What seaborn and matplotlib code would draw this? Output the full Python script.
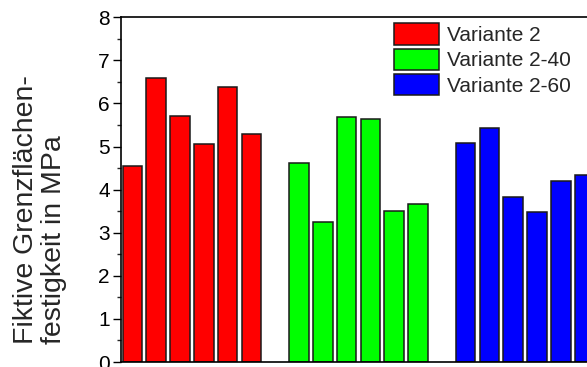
import matplotlib
matplotlib.use("Agg")
import matplotlib.pyplot as plt
from matplotlib.patches import Patch
from matplotlib.ticker import MultipleLocator
import numpy as np
import pandas as pd
import seaborn as sns

# Measured values per variant (six specimens each)
variants = ["Variante 2", "Variante 2-40", "Variante 2-60"]
werte_v2 = [4.56, 6.60, 5.72, 5.06, 6.39, 5.28]
werte_v2_40 = [4.61, 3.24, 5.68, 5.65, 3.50, 3.66]
werte_v2_60 = [5.09, 5.42, 3.83, 3.48, 4.20, 4.35]
farben = ["#FF0000", "#00FF00", "#0000FF"]
y_label = "Fiktive Grenzflächen-\nfestigkeit in MPa"

sns.set_theme(style="white")
plt.rcParams["font.family"] = ["Liberation Sans", "DejaVu Sans"]

# Long-form table: each group of six bars followed by one empty slot
rows = []
for g, (name, vals) in enumerate(zip(variants, [werte_v2, werte_v2_40, werte_v2_60])):
    for i, v in enumerate(vals):
        rows.append({"pos": g * 7 + i, "variante": name, "wert": v})
df = pd.DataFrame(rows)

fig = plt.figure(figsize=(5.87, 3.67), dpi=100)
ax = fig.add_axes([121 / 587, 5 / 367, (587 - 121) / 587, (362 - 17.3) / 367])

sns.barplot(data=df, x="pos", y="wert", hue="variante", hue_order=variants,
            palette=farben, native_scale=True, dodge=False, width=0.82,
            edgecolor="#1a1a1a", linewidth=1.1, saturation=1, legend=False, ax=ax)

ax.set_xlim(-0.48, 19.1)
ax.set_ylim(0, 8)
ax.yaxis.set_major_locator(MultipleLocator(1))
ax.yaxis.set_minor_locator(MultipleLocator(0.5))
ax.tick_params(axis="y", which="major", direction="out", length=6, width=1,
               labelsize=15, pad=2, left=True, colors="black")
ax.tick_params(axis="y", which="minor", direction="out", length=3, width=1, left=True)
ax.tick_params(axis="x", bottom=False, labelbottom=False)
ax.set_xlabel("")
ax.set_ylabel("")
for side in ["left", "bottom", "top"]:
    ax.spines[side].set_visible(True)
    ax.spines[side].set_color("black")
    ax.spines[side].set_linewidth(1.2)
ax.spines["right"].set_visible(False)

handles = [Patch(facecolor=c, edgecolor="#1a1a1a", linewidth=1.1) for c in farben]
fig.legend(handles, variants, loc="upper left",
           bbox_to_anchor=(393.5 / 587, 1 - 23.5 / 367), frameon=False,
           fontsize=15, handlelength=2.2, handleheight=1.2,
           handletextpad=0.38, labelspacing=0.17, borderpad=0, borderaxespad=0)

fig.text(40 / 587, 1 - 210 / 367, y_label, rotation=90, ha="center", va="center",
         multialignment="left", fontsize=20.5, linespacing=1.1)

fig.savefig("out.png", dpi=100)
